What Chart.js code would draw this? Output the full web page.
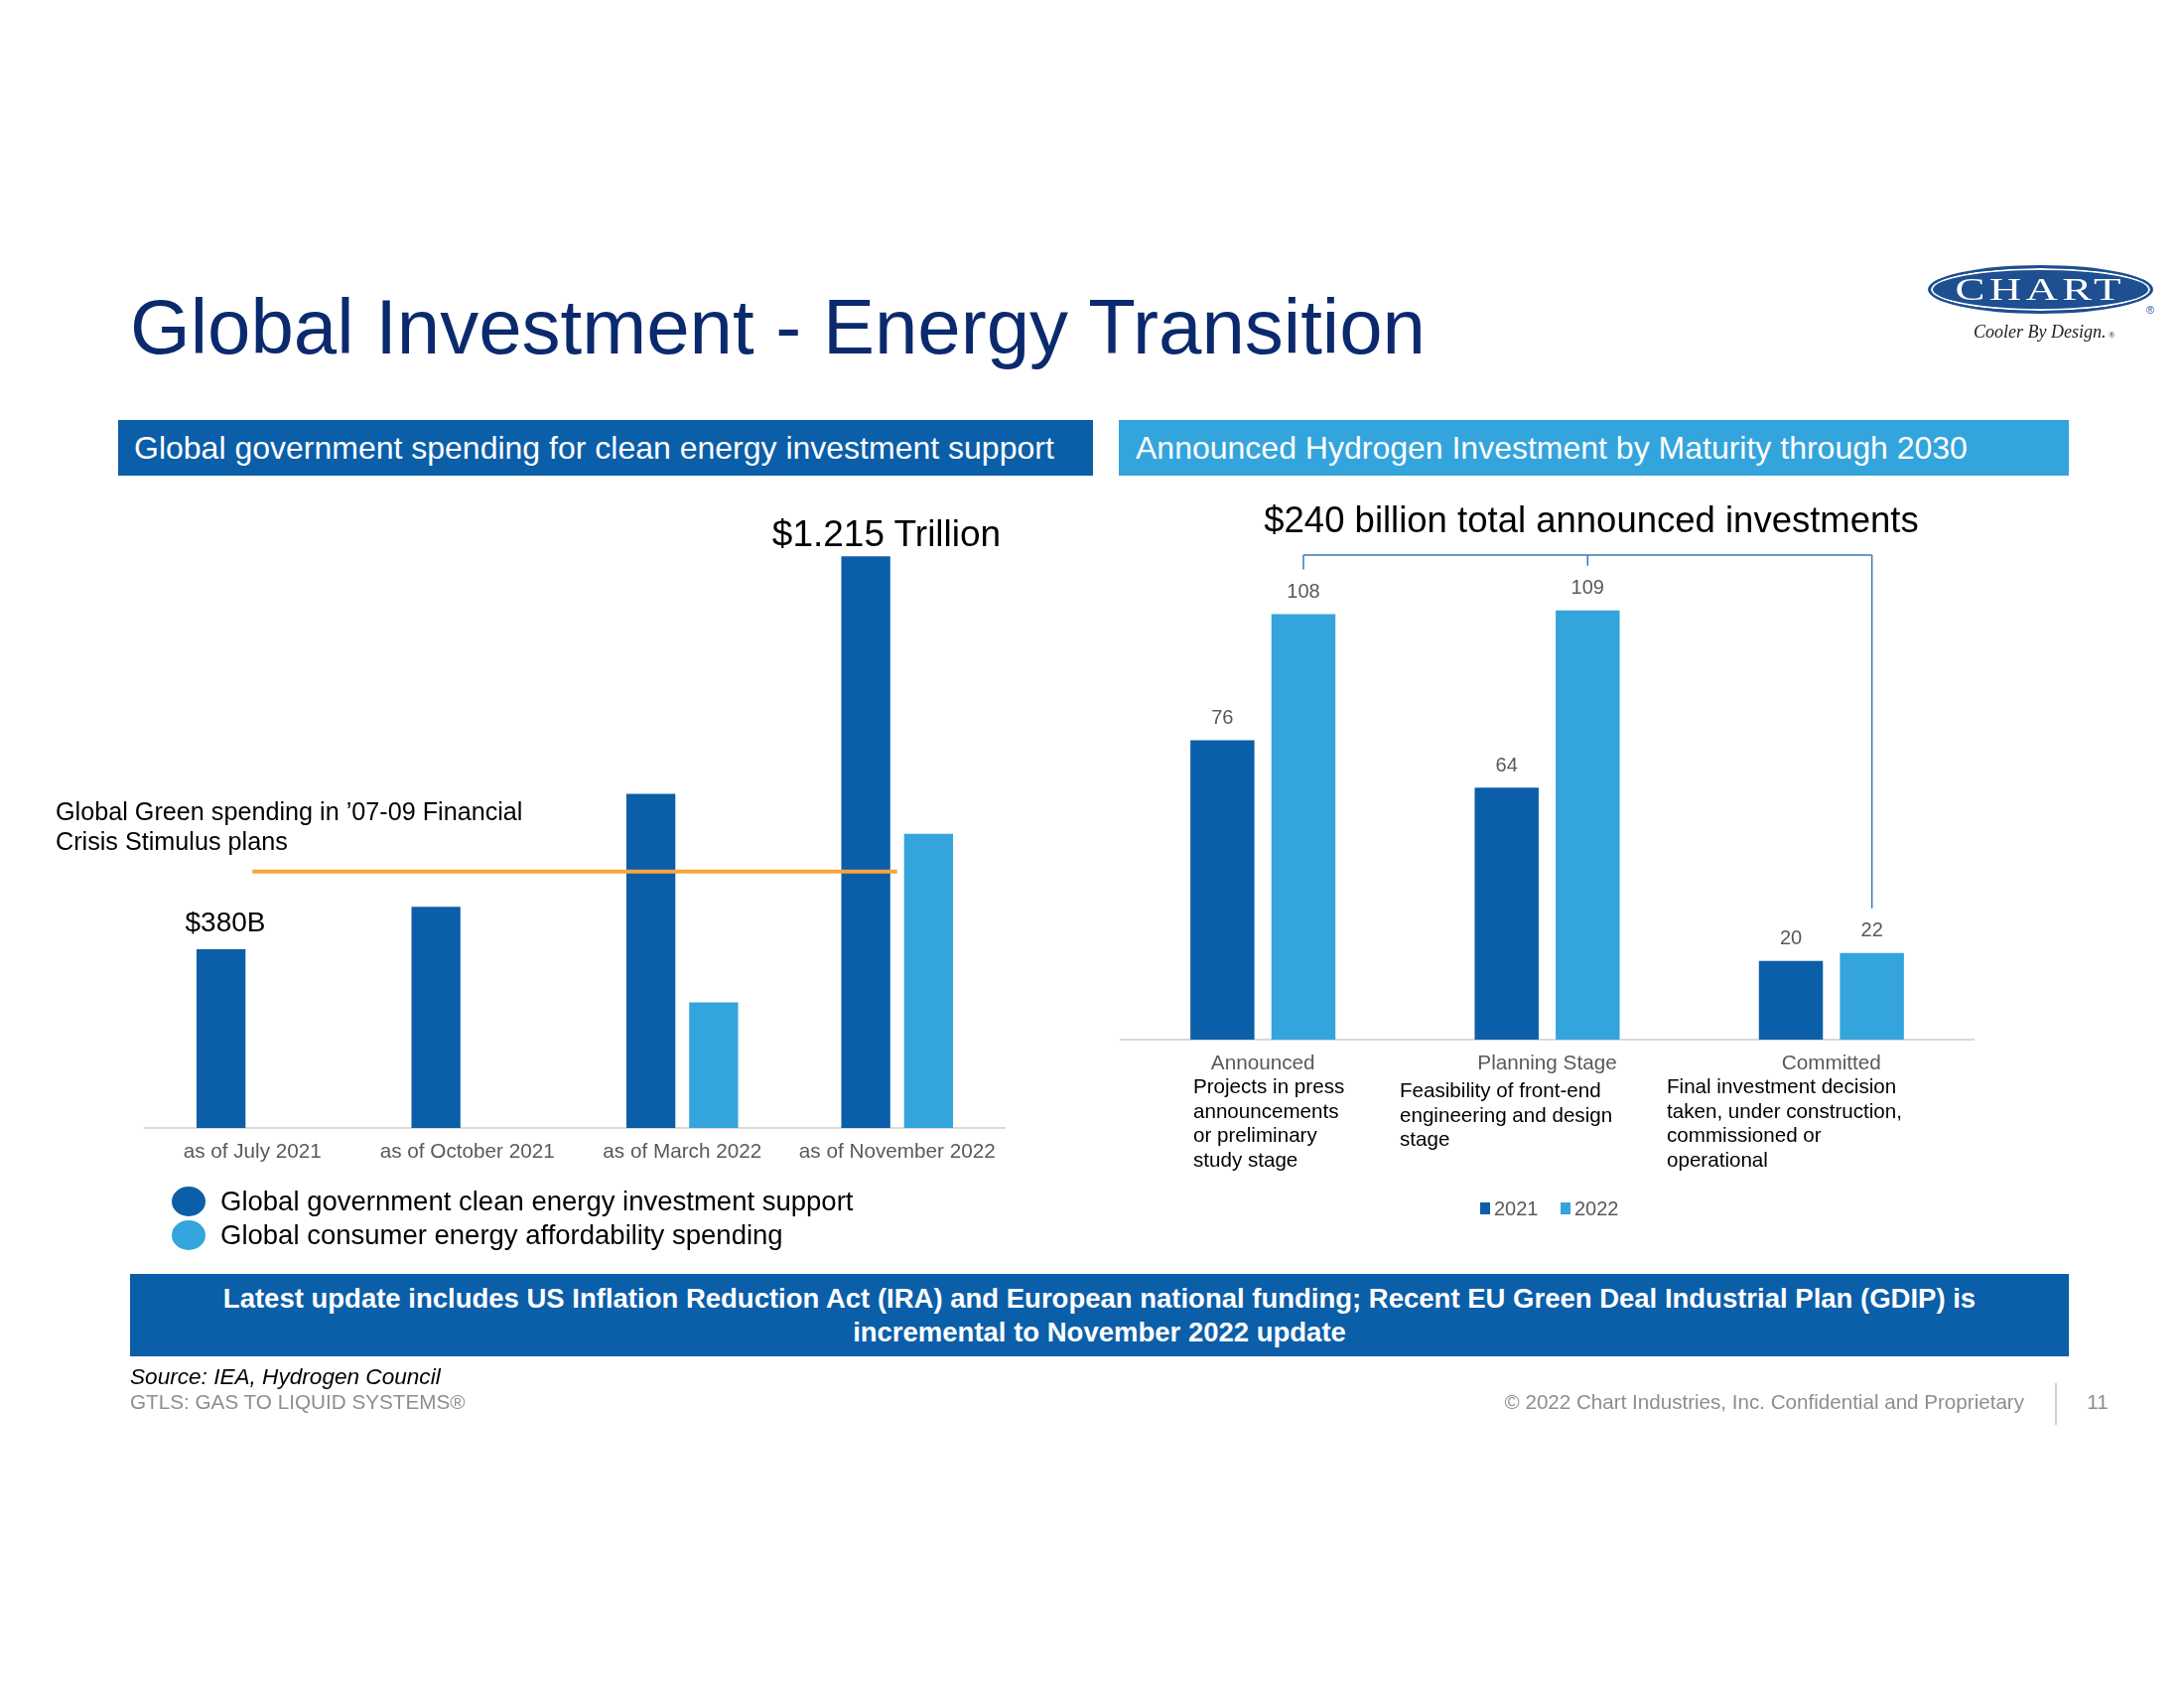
<!DOCTYPE html>
<html>
<head>
<meta charset="utf-8">
<script src="https://cdn.jsdelivr.net/npm/chart.js@4.4.0/dist/chart.umd.min.js"></script>
<style>
  body { margin: 0; width: 2200px; height: 1700px; background: #fff; position: relative; overflow: hidden;
         font-family: "Liberation Sans", Arial, sans-serif; }
  canvas.full { position: absolute; left: 0; top: 0; }
  .abs { position: absolute; white-space: nowrap; }
  .band { position: absolute; display: flex; align-items: center; color: #fff; }
  .desc { position: absolute; font-size: 20.6px; line-height: 24.6px; color: #000; white-space: nowrap; }
</style>
</head>
<body>
<canvas id="leftChart" class="full" width="2200" height="1700"></canvas>
<canvas id="rightChart" class="full" width="2200" height="1700"></canvas>

<div class="abs" style="left:131px; top:290px; font-size:78px; line-height:78px; color:#0b2a6e;">Global Investment - Energy Transition</div>

<!-- logo -->
<div class="abs" style="left:1942px; top:267px; width:221px; height:43px; border-radius:50%; background:#1d4f91; border:3px solid #1d4f91; box-shadow: inset 0 0 0 2px #fff; display:flex; align-items:center; justify-content:center;">
  <span style="font-family:'Liberation Serif', serif; color:#fff; font-size:31px; letter-spacing:3px; transform:scaleX(1.45); display:inline-block;">CHART</span>
</div>
<div class="abs" style="left:2162px; top:306px; font-size:11px; color:#1d4f91;">®</div>
<div class="abs" style="left:1988px; top:323px; font-family:'Liberation Serif', serif; font-style:italic; font-size:18px; line-height:22px; color:#222;">Cooler By Design.<span style="font-size:9px; font-style:normal;"> ®</span></div>

<div class="band" style="left:119px; top:423px; width:982px; height:56px; background:#0b5ea8;">
  <span style="margin-left:16px; font-size:32px;">Global government spending for clean energy investment support</span>
</div>
<div class="band" style="left:1127px; top:423px; width:957px; height:56px; background:#34a4dc;">
  <span style="margin-left:17px; font-size:32px;">Announced Hydrogen Investment by Maturity through 2030</span>
</div>

<!-- left chart annotations -->
<div class="abs" style="left:773px; top:516px; width:240px; text-align:center; font-size:37px; line-height:44px;">$1.215 Trillion</div>
<div class="abs" style="left:167px; top:912px; width:120px; text-align:center; font-size:28px; line-height:34px;">$380B</div>
<div class="abs" style="left:56px; top:803px; font-size:25.2px; line-height:29.5px;">Global Green spending in ’07-09 Financial<br>Crisis Stimulus plans</div>

<!-- left legend -->
<div class="abs" style="left:173px; top:1195px; width:34px; height:30px; border-radius:50%; background:#0b5ea8;"></div>
<div class="abs" style="left:173px; top:1229px; width:34px; height:30px; border-radius:50%; background:#34a4dc;"></div>
<div class="abs" style="left:222px; top:1193px; font-size:27.5px; line-height:34px;">Global government clean energy investment support</div>
<div class="abs" style="left:222px; top:1227px; font-size:27.5px; line-height:34px;">Global consumer energy affordability spending</div>

<!-- right chart annotations -->
<div class="abs" style="left:1203px; top:502px; width:800px; text-align:center; font-size:36.5px; line-height:44px;">$240 billion total announced investments</div>
<div class="desc" style="left:1202px; top:1082px;">Projects in press<br>announcements<br>or preliminary<br>study stage</div>
<div class="desc" style="left:1410px; top:1086px;">Feasibility of front-end<br>engineering and design<br>stage</div>
<div class="desc" style="left:1679px; top:1082px;">Final investment decision<br>taken, under construction,<br>commissioned or<br>operational</div>

<!-- right legend -->
<div class="abs" style="left:1491px; top:1211px; width:10px; height:12px; background:#0b5ea8;"></div>
<div class="abs" style="left:1505px; top:1205px; font-size:20px; line-height:24px; color:#595959;">2021</div>
<div class="abs" style="left:1572px; top:1211px; width:10px; height:12px; background:#34a4dc;"></div>
<div class="abs" style="left:1586px; top:1205px; font-size:20px; line-height:24px; color:#595959;">2022</div>

<!-- bottom band -->
<div class="band" style="left:131px; top:1283px; width:1953px; height:83px; background:#0b5ea8; justify-content:center; text-align:center;">
  <span style="font-size:27.5px; line-height:34px; font-weight:bold;">Latest update includes US Inflation Reduction Act (IRA) and European national funding; Recent EU Green Deal Industrial Plan (GDIP) is<br>incremental to November 2022 update</span>
</div>

<!-- footer -->
<div class="abs" style="left:131px; top:1374px; font-size:22.6px; line-height:26px; font-style:italic; color:#000;">Source: IEA, Hydrogen Council</div>
<div class="abs" style="left:131px; top:1400px; font-size:20.7px; line-height:24px; color:#8e8e8e;">GTLS: GAS TO LIQUID SYSTEMS®</div>
<div class="abs" style="left:1439px; top:1400px; width:600px; text-align:right; font-size:20.6px; line-height:24px; color:#8e8e8e;">© 2022 Chart Industries, Inc. Confidential and Proprietary</div>
<div class="abs" style="left:2070px; top:1393px; width:2px; height:42px; background:#d0d0d0;"></div>
<div class="abs" style="left:2098px; top:1400px; width:30px; text-align:center; font-size:20.6px; line-height:24px; color:#8e8e8e;">11</div>

<script>
// left chart: global government spending (US$ billions)
const leftCategories = ['as of July 2021', 'as of October 2021', 'as of March 2022', 'as of November 2022'];
const govSupport = [380, 470, 710, 1215];
const consumerSpending = [null, null, 267, 625];
const green0709 = 545;   // '07-09 stimulus green spending
const leftYMax = 1300;

// right chart: announced hydrogen investment (US$ billions)
const hydroCategories = ['Announced', 'Planning Stage', 'Committed'];
const hydro2021 = [76, 64, 20];
const hydro2022 = [108, 109, 22];
const hydroYMax = 120;

const DARK = '#0b5ea8';
const LIGHT = '#34a4dc';

Chart.defaults.font.family = '"Liberation Sans", Arial, sans-serif';

const greenLine = {
    id: 'greenLine',
    afterDatasetsDraw(chart) {
        const { ctx, scales: { x, y } } = chart;
        const yy = y.getPixelForValue(green0709);
        ctx.save();
        ctx.strokeStyle = '#f5a540';
        ctx.lineWidth = 4;
        ctx.beginPath();
        ctx.moveTo(x.getPixelForValue(0), yy);
        ctx.lineTo(x.getPixelForValue(leftCategories.length - 1), yy);
        ctx.stroke();
        ctx.restore();
    }
};

const hydroLabels = {
    id: 'hydroLabels',
    afterDatasetsDraw(chart) {
        const ctx = chart.ctx;
        ctx.save();
        ctx.font = '20px "Liberation Sans", Arial, sans-serif';
        ctx.fillStyle = '#595959';
        ctx.textAlign = 'center';
        ctx.textBaseline = 'middle';
        chart.data.datasets.forEach((ds, i) => {
            chart.getDatasetMeta(i).data.forEach((bar, j) => {
                ctx.fillText(ds.data[j], bar.x, bar.y - 22);
            });
        });

        // bracket joining the 2022 bars
        const bars = chart.getDatasetMeta(1).data;
        const top = chart.chartArea.top - 12;
        ctx.strokeStyle = '#3a78b8';
        ctx.lineWidth = 1.5;
        ctx.beginPath();
        ctx.moveTo(bars[0].x, top);
        ctx.lineTo(bars[bars.length - 1].x, top);
        bars.forEach(b => {
            ctx.moveTo(b.x, top);
            ctx.lineTo(b.x, b.y - 45);
        });
        ctx.stroke();
        ctx.restore();
    }
};

function xAxis() {
    return {
        grid: { display: false, drawTicks: false },
        border: { display: true, color: '#d9d9d9', width: 2 },
        ticks: { color: '#595959', font: { size: 20.7 }, padding: 12, maxRotation: 0, autoSkip: false },
        afterFit: s => { s.height = 40; }
    };
}

new Chart(document.getElementById('leftChart'), {
    type: 'bar',
    data: {
        labels: leftCategories,
        datasets: [
            { label: 'Global government clean energy investment support', data: govSupport, backgroundColor: DARK,
              barPercentage: 0.78, categoryPercentage: 0.584 },
            { label: 'Global consumer energy affordability spending', data: consumerSpending, backgroundColor: LIGHT,
              barPercentage: 0.78, categoryPercentage: 0.584 }
        ]
    },
    options: {
        responsive: false,
        devicePixelRatio: 1,
        animation: false,
        layout: { padding: { left: 146, right: 1188, top: 520, bottom: 524 } },
        plugins: { legend: { display: false }, tooltip: { enabled: false } },
        scales: {
            x: xAxis(),
            y: { display: false, min: 0, max: leftYMax }
        }
    },
    plugins: [greenLine]
});

new Chart(document.getElementById('rightChart'), {
    type: 'bar',
    data: {
        labels: hydroCategories,
        datasets: [
            { label: '2021', data: hydro2021, backgroundColor: DARK, barPercentage: 0.79, categoryPercentage: 0.57 },
            { label: '2022', data: hydro2022, backgroundColor: LIGHT, barPercentage: 0.79, categoryPercentage: 0.57 }
        ]
    },
    options: {
        responsive: false,
        devicePixelRatio: 1,
        animation: false,
        layout: { padding: { left: 1129, right: 212, top: 571, bottom: 613 } },
        plugins: { legend: { display: false }, tooltip: { enabled: false } },
        scales: {
            x: xAxis(),
            y: { display: false, min: 0, max: hydroYMax }
        }
    },
    plugins: [hydroLabels]
});
</script>
</body>
</html>
